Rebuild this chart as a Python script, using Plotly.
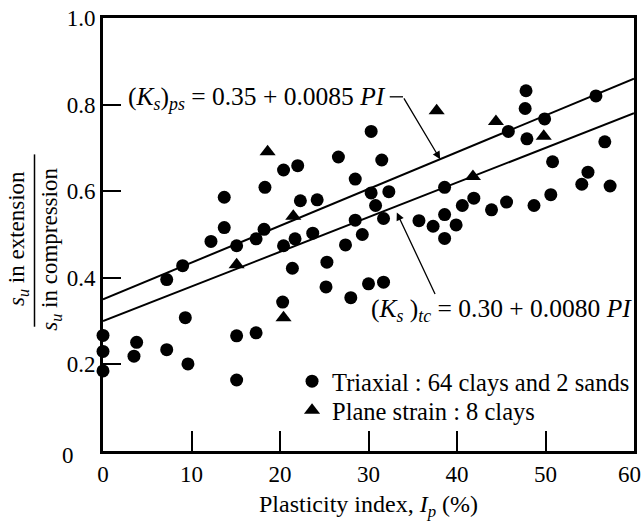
import plotly.graph_objects as go

# Triaxial (circles)
tri_pi = [0, 0, 0, 3.8, 3.5, 7.2, 7.2, 9.0, 9.3, 9.6, 12.2, 13.7, 13.7, 15.1, 15.1, 15.1,
          17.3, 17.3, 18.3, 18.2, 20.4, 20.4, 20.3, 22.0, 21.7, 21.4, 22.3, 24.2, 23.7,
          25.3, 25.2, 26.6, 27.4, 28.0, 28.5, 28.5, 29.3, 30.0, 30.3, 30.3, 30.8, 31.5,
          31.7, 31.7, 32.3, 35.7, 37.3, 38.6, 38.6, 38.6, 39.9, 40.6, 41.9, 43.9, 45.6,
          45.8, 47.8, 47.7, 47.9, 48.7, 49.9, 50.6, 50.8, 54.1, 54.8, 55.7, 56.7, 57.3]
tri_ks = [0.267, 0.23, 0.185, 0.251, 0.219, 0.396, 0.234, 0.428, 0.308, 0.201, 0.484, 0.586,
          0.516, 0.474, 0.266, 0.164, 0.490, 0.273, 0.609, 0.512, 0.649, 0.474, 0.344, 0.659,
          0.490, 0.422, 0.578, 0.580, 0.503, 0.436, 0.379, 0.679, 0.476, 0.354, 0.628, 0.533,
          0.500, 0.386, 0.738, 0.596, 0.567, 0.672, 0.390, 0.537, 0.599, 0.532, 0.519, 0.609,
          0.546, 0.491, 0.522, 0.567, 0.584, 0.557, 0.575, 0.738, 0.832, 0.791, 0.721, 0.567,
          0.767, 0.592, 0.668, 0.616, 0.644, 0.820, 0.714, 0.612]

# Plane strain (triangles)
ps_pi = [18.6, 21.5, 15.1, 20.4, 37.7, 44.4, 49.8, 41.8]
ps_ks = [0.691, 0.542, 0.430, 0.308, 0.786, 0.761, 0.727, 0.634]

# Regression lines: Ks = a + b * PI
line_pi = [0, 60]
ps_a, ps_b = 0.35, 0.0085
tc_a, tc_b = 0.30, 0.0080

x_ticks = [0, 10, 20, 30, 40, 50, 60]
x_tick_labels = ["0", "10", "20", "30", "40", "50", "60"]
y_ticks = [0.2, 0.4, 0.6, 0.8, 1.0]
y_tick_labels = ["0.2", "0.4", "0.6", "0.8", "1.0"]

FONT = "Liberation Serif, Liberation Sans, Arial, sans-serif"
FS = 23

fig = go.Figure()
fig.add_trace(go.Scatter(x=line_pi, y=[ps_a + ps_b * v for v in line_pi], mode="lines",
                         line=dict(color="black", width=2), showlegend=False, hoverinfo="skip"))
fig.add_trace(go.Scatter(x=line_pi, y=[tc_a + tc_b * v for v in line_pi], mode="lines",
                         line=dict(color="black", width=2), showlegend=False, hoverinfo="skip"))
fig.add_trace(go.Scatter(x=tri_pi, y=tri_ks, mode="markers", name="Triaxial : 64 clays and 2 sands",
                         marker=dict(symbol="circle", size=13, color="black"), cliponaxis=False,
                         legend="legend"))
fig.add_trace(go.Scatter(x=ps_pi, y=ps_ks, mode="markers", name="Plane strain : 8 clays",
                         marker=dict(symbol="triangle-up", size=14, color="black"), cliponaxis=False,
                         legend="legend2"))

# Leader lines and arrows
ps_tip_x = 38.1
tc_tip_x = 33.2
fig.add_shape(type="line", x0=32.4, y0=0.818, x1=33.9, y1=0.818, xref="x", yref="y",
              line=dict(color="black", width=1.3))
fig.add_annotation(x=ps_tip_x, y=ps_a + ps_b * ps_tip_x, ax=33.9, ay=0.818, axref="x", ayref="y",
                   xref="x", yref="y", text="", showarrow=True, arrowhead=2, arrowsize=1.2,
                   arrowwidth=1.3, arrowcolor="black")
fig.add_annotation(x=tc_tip_x, y=tc_a + tc_b * tc_tip_x - 0.015, ax=37.6, ay=0.359, axref="x", ayref="y",
                   xref="x", yref="y", text="", showarrow=True, arrowhead=2, arrowsize=1.2,
                   arrowwidth=1.3, arrowcolor="black")

fig.add_annotation(x=32.2, y=0.816, xref="x", yref="y", xanchor="right", yanchor="middle",
                   text="(<i>K<sub>s</sub></i>)<i><sub>ps</sub></i> = 0.35 + 0.0085 <i>PI</i>",
                   showarrow=False, font=dict(family=FONT, size=25.5, color="black"))
fig.add_annotation(x=60.0, y=0.326, xref="x", yref="y", xanchor="right", yanchor="middle",
                   text="(<i>K<sub>s</sub></i> )<i><sub>tc</sub></i> = 0.30 + 0.0080 <i>PI</i>",
                   showarrow=False, font=dict(family=FONT, size=25.5, color="black"))

# y-axis "0" label (offset like the original)
fig.add_annotation(x=-0.0655, y=-0.0115, xref="paper", yref="paper", text="0", showarrow=False,
                   xanchor="center", yanchor="middle",
                   font=dict(family=FONT, size=FS, color="black"))
# last x tick label, nudged inside the page like the original
fig.add_annotation(x=0.9906, y=-0.055, xref="paper", yref="paper", text=x_tick_labels[-1],
                   showarrow=False, xanchor="center", yanchor="middle",
                   font=dict(family=FONT, size=FS, color="black"))

# y-axis title as a fraction
fig.add_annotation(x=-0.190, y=0.49, xref="paper", yref="paper", textangle=-90,
                   xanchor="left", yanchor="middle",
                   text="<i>s</i><sub><i>u</i></sub> in extension", showarrow=False,
                   font=dict(family=FONT, size=FS, color="black"))
fig.add_annotation(x=-0.128, y=0.465, xref="paper", yref="paper", textangle=-90,
                   xanchor="left", yanchor="middle",
                   text="<i>s</i><sub><i>u</i></sub> in compression", showarrow=False,
                   font=dict(family=FONT, size=FS, color="black"))
fig.add_shape(type="line", x0=-0.129, x1=-0.129, y0=0.287, y1=0.685, xref="paper", yref="paper",
              line=dict(color="black", width=1.5))

legend_common = dict(xanchor="left", yanchor="middle", bgcolor="rgba(0,0,0,0)",
                     font=dict(family=FONT, size=24.5, color="black"), itemsizing="trace")

fig.update_layout(
    width=643, height=521,
    margin=dict(l=103, r=6, t=18, b=68),
    paper_bgcolor="white", plot_bgcolor="white",
    font=dict(family=FONT, size=FS, color="black"),
    showlegend=True,
    legend=dict(x=0.356, y=0.161, **legend_common),
    legend2=dict(x=0.356, y=0.094, **legend_common),
    xaxis=dict(range=[0, 60], tickvals=x_ticks, ticktext=x_tick_labels[:-1] + [""],
               ticks="inside", ticklen=20, tickwidth=1.5,
               tickcolor="black", showline=True, linewidth=3, linecolor="black", mirror=True,
               showgrid=False, zeroline=False,
               title=dict(text="Plasticity index, <i>I<sub>p</sub></i> (%)", standoff=12,
                          font=dict(family=FONT, size=24))),
    yaxis=dict(range=[0, 1.0], tickvals=y_ticks, ticktext=y_tick_labels, ticks="inside",
               ticklen=18, tickwidth=1.5, tickcolor="black", showline=True, linewidth=3,
               linecolor="black", mirror=True, showgrid=False, zeroline=False),
)

fig.write_html("out.html")
